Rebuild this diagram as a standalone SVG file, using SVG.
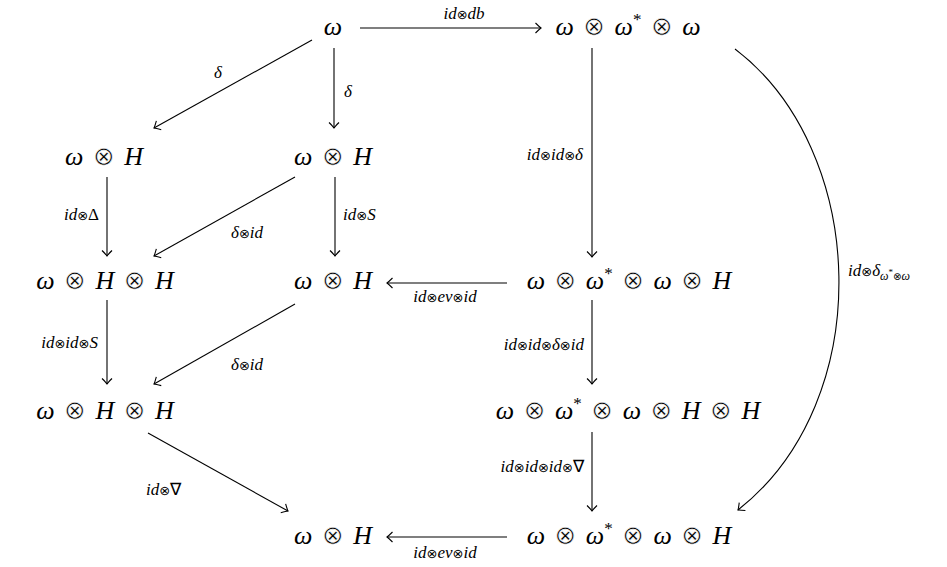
<svg xmlns="http://www.w3.org/2000/svg" width="947" height="567" viewBox="0 0 947 567">
<defs>
<marker id="ah" markerUnits="userSpaceOnUse" viewBox="-7 -6 9 12" markerWidth="9" markerHeight="12" refX="0" refY="0" orient="auto">
<path d="M-5.5,-5 Q-1.5,-1 0,0 Q-1.5,1 -5.5,5" fill="none" stroke="#000" stroke-width="1.1"/>
</marker>
</defs>
<rect width="947" height="567" fill="#fff"/>
<g font-size="26" word-spacing="3" text-anchor="middle" fill="#000">
<g id="n1"><text font-family="Liberation Serif" font-style="italic" x="333" y="35">ω</text></g>
<g id="n2"><text font-family="Liberation Serif" font-style="italic" x="628" y="35">ω <tspan font-family="DejaVu Sans" font-style="normal" stroke="#fff" stroke-width="0.6">⊗</tspan> ω<tspan font-size="17" font-style="normal" dy="-10">*</tspan><tspan dy="10"> </tspan><tspan font-family="DejaVu Sans" font-style="normal" stroke="#fff" stroke-width="0.6">⊗</tspan> ω</text></g>
<g id="n3"><text font-family="Liberation Serif" font-style="italic" x="104" y="165">ω <tspan font-family="DejaVu Sans" font-style="normal" stroke="#fff" stroke-width="0.6">⊗</tspan> H</text></g>
<g id="n4"><text font-family="Liberation Serif" font-style="italic" x="333" y="165">ω <tspan font-family="DejaVu Sans" font-style="normal" stroke="#fff" stroke-width="0.6">⊗</tspan> H</text></g>
<g id="n5"><text font-family="Liberation Serif" font-style="italic" x="105" y="289">ω <tspan font-family="DejaVu Sans" font-style="normal" stroke="#fff" stroke-width="0.6">⊗</tspan> H <tspan font-family="DejaVu Sans" font-style="normal" stroke="#fff" stroke-width="0.6">⊗</tspan> H</text></g>
<g id="n6"><text font-family="Liberation Serif" font-style="italic" x="333" y="289">ω <tspan font-family="DejaVu Sans" font-style="normal" stroke="#fff" stroke-width="0.6">⊗</tspan> H</text></g>
<g id="n7"><text font-family="Liberation Serif" font-style="italic" x="629" y="289">ω <tspan font-family="DejaVu Sans" font-style="normal" stroke="#fff" stroke-width="0.6">⊗</tspan> ω<tspan font-size="17" font-style="normal" dy="-10">*</tspan><tspan dy="10"> </tspan><tspan font-family="DejaVu Sans" font-style="normal" stroke="#fff" stroke-width="0.6">⊗</tspan> ω <tspan font-family="DejaVu Sans" font-style="normal" stroke="#fff" stroke-width="0.6">⊗</tspan> H</text></g>
<g id="n8"><text font-family="Liberation Serif" font-style="italic" x="105" y="419">ω <tspan font-family="DejaVu Sans" font-style="normal" stroke="#fff" stroke-width="0.6">⊗</tspan> H <tspan font-family="DejaVu Sans" font-style="normal" stroke="#fff" stroke-width="0.6">⊗</tspan> H</text></g>
<g id="n9"><text font-family="Liberation Serif" font-style="italic" x="628" y="419">ω <tspan font-family="DejaVu Sans" font-style="normal" stroke="#fff" stroke-width="0.6">⊗</tspan> ω<tspan font-size="17" font-style="normal" dy="-10">*</tspan><tspan dy="10"> </tspan><tspan font-family="DejaVu Sans" font-style="normal" stroke="#fff" stroke-width="0.6">⊗</tspan> ω <tspan font-family="DejaVu Sans" font-style="normal" stroke="#fff" stroke-width="0.6">⊗</tspan> H <tspan font-family="DejaVu Sans" font-style="normal" stroke="#fff" stroke-width="0.6">⊗</tspan> H</text></g>
<g id="n10"><text font-family="Liberation Serif" font-style="italic" x="333" y="544">ω <tspan font-family="DejaVu Sans" font-style="normal" stroke="#fff" stroke-width="0.6">⊗</tspan> H</text></g>
<g id="n11"><text font-family="Liberation Serif" font-style="italic" x="629" y="544">ω <tspan font-family="DejaVu Sans" font-style="normal" stroke="#fff" stroke-width="0.6">⊗</tspan> ω<tspan font-size="17" font-style="normal" dy="-10">*</tspan><tspan dy="10"> </tspan><tspan font-family="DejaVu Sans" font-style="normal" stroke="#fff" stroke-width="0.6">⊗</tspan> ω <tspan font-family="DejaVu Sans" font-style="normal" stroke="#fff" stroke-width="0.6">⊗</tspan> H</text></g>
</g>
<g id="connectors" fill="none" stroke="#000" stroke-width="1.1">
<line marker-end="url(#ah)" x1="360" y1="28" x2="541" y2="28"/>
<line marker-end="url(#ah)" x1="312" y1="40" x2="154" y2="128"/>
<line marker-end="url(#ah)" x1="334" y1="48" x2="334" y2="128"/>
<line marker-end="url(#ah)" x1="592" y1="48" x2="592" y2="257"/>
<line marker-end="url(#ah)" x1="107" y1="177" x2="107" y2="256"/>
<line marker-end="url(#ah)" x1="295" y1="177" x2="154" y2="256"/>
<line marker-end="url(#ah)" x1="335" y1="177" x2="335" y2="256"/>
<line marker-end="url(#ah)" x1="507" y1="283" x2="387" y2="283"/>
<line marker-end="url(#ah)" x1="107" y1="300" x2="107" y2="384"/>
<line marker-end="url(#ah)" x1="295" y1="304" x2="154" y2="384"/>
<line marker-end="url(#ah)" x1="592" y1="300" x2="592" y2="384"/>
<line marker-end="url(#ah)" x1="148" y1="433" x2="288" y2="511"/>
<line marker-end="url(#ah)" x1="592" y1="432" x2="592" y2="511"/>
<line marker-end="url(#ah)" x1="507" y1="537" x2="387" y2="537"/>
<path marker-end="url(#ah)" d="M735,49 C868,150 878,400 738,510"/>
</g>
<g id="labels" font-size="17" fill="#000">
<text font-family="Liberation Serif" font-style="italic" x="464" y="19" text-anchor="middle">id<tspan font-family="DejaVu Sans" font-style="normal" font-size="13">⊗</tspan>db</text>
<text font-family="Liberation Serif" font-style="italic" x="218" y="78" text-anchor="middle">δ</text>
<text font-family="Liberation Serif" font-style="italic" x="344" y="97">δ</text>
<text font-family="Liberation Serif" font-style="italic" x="583" y="160" text-anchor="end">id<tspan font-family="DejaVu Sans" font-style="normal" font-size="13">⊗</tspan>id<tspan font-family="DejaVu Sans" font-style="normal" font-size="13">⊗</tspan>δ</text>
<text font-family="Liberation Serif" font-style="italic" x="99" y="220" text-anchor="end">id<tspan font-family="DejaVu Sans" font-style="normal" font-size="13">⊗</tspan><tspan font-style="normal">Δ</tspan></text>
<text font-family="Liberation Serif" font-style="italic" x="231" y="238">δ<tspan font-family="DejaVu Sans" font-style="normal" font-size="13">⊗</tspan>id</text>
<text font-family="Liberation Serif" font-style="italic" x="343" y="220">id<tspan font-family="DejaVu Sans" font-style="normal" font-size="13">⊗</tspan>S</text>
<text font-family="Liberation Serif" font-style="italic" x="445" y="302" text-anchor="middle">id<tspan font-family="DejaVu Sans" font-style="normal" font-size="13">⊗</tspan>ev<tspan font-family="DejaVu Sans" font-style="normal" font-size="13">⊗</tspan>id</text>
<text font-family="Liberation Serif" font-style="italic" x="98" y="348" text-anchor="end">id<tspan font-family="DejaVu Sans" font-style="normal" font-size="13">⊗</tspan>id<tspan font-family="DejaVu Sans" font-style="normal" font-size="13">⊗</tspan>S</text>
<text font-family="Liberation Serif" font-style="italic" x="231" y="370">δ<tspan font-family="DejaVu Sans" font-style="normal" font-size="13">⊗</tspan>id</text>
<text font-family="Liberation Serif" font-style="italic" x="584" y="350" text-anchor="end">id<tspan font-family="DejaVu Sans" font-style="normal" font-size="13">⊗</tspan>id<tspan font-family="DejaVu Sans" font-style="normal" font-size="13">⊗</tspan>δ<tspan font-family="DejaVu Sans" font-style="normal" font-size="13">⊗</tspan>id</text>
<text font-family="Liberation Serif" font-style="italic" x="146" y="495">id<tspan font-family="DejaVu Sans" font-style="normal" font-size="13">⊗</tspan><tspan font-style="normal">∇</tspan></text>
<text font-family="Liberation Serif" font-style="italic" x="584" y="472" text-anchor="end">id<tspan font-family="DejaVu Sans" font-style="normal" font-size="13">⊗</tspan>id<tspan font-family="DejaVu Sans" font-style="normal" font-size="13">⊗</tspan>id<tspan font-family="DejaVu Sans" font-style="normal" font-size="13">⊗</tspan><tspan font-style="normal">∇</tspan></text>
<text font-family="Liberation Serif" font-style="italic" x="445" y="558" text-anchor="middle">id<tspan font-family="DejaVu Sans" font-style="normal" font-size="13">⊗</tspan>ev<tspan font-family="DejaVu Sans" font-style="normal" font-size="13">⊗</tspan>id</text>
<text font-family="Liberation Serif" font-style="italic" x="848" y="276">id<tspan font-family="DejaVu Sans" font-style="normal" font-size="13">⊗</tspan>δ<tspan font-size="12" dy="4">ω</tspan><tspan font-size="9" font-style="normal" dy="-5">*</tspan><tspan font-family="DejaVu Sans" font-style="normal" font-size="10" dy="5">⊗</tspan><tspan font-size="12">ω</tspan></text>
</g>
</svg>
